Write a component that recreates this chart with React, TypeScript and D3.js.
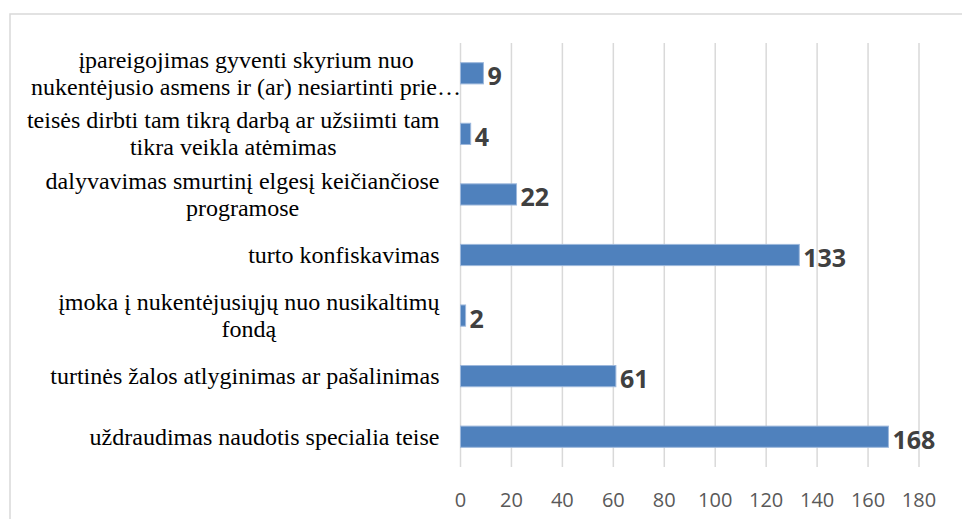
import React, { useEffect, useRef } from "react";
import * as d3 from "d3";

// categories top to bottom, each split into its wrapped lines
const categories = [
  ["įpareigojimas gyventi skyrium nuo", "nukentėjusio asmens ir (ar) nesiartinti prie…"],
  ["teisės dirbti tam tikrą darbą ar užsiimti tam", "tikra veikla atėmimas"],
  ["dalyvavimas smurtinį elgesį keičiančiose", "programose"],
  ["turto konfiskavimas"],
  ["įmoka į nukentėjusiųjų nuo nusikaltimų", "fondą"],
  ["turtinės žalos atlyginimas ar pašalinimas"],
  ["uždraudimas naudotis specialia teise"],
];
const values = [9, 4, 22, 133, 2, 61, 168];
const xTicks = [0, 20, 40, 60, 80, 100, 120, 140, 160, 180];

const W = 962;
const H = 519;

const App = () => {
  const svgRef = useRef(null);

  useEffect(() => {
    if (!svgRef.current) return;
    const svg = d3.select(svgRef.current);
    svg.selectAll("*").remove();

    const left = 460.5;
    const right = 919;
    const top = 43;
    const bottom = 467;

    const x = d3.scaleLinear().domain([0, 180]).range([left, right]);
    const y = d3
      .scaleBand()
      .domain(d3.range(categories.length).map(String))
      .range([top, bottom])
      .paddingInner(0.65)
      .paddingOuter(0.325);

    // chart frame (right / bottom sides fall outside the picture)
    svg
      .append("rect")
      .attr("x", 10)
      .attr("y", 14)
      .attr("width", W + 20)
      .attr("height", H + 20)
      .attr("fill", "#fff")
      .attr("stroke", "#d9d9d9")
      .attr("stroke-width", 1.5);

    // vertical gridlines
    svg
      .append("g")
      .selectAll("line")
      .data(xTicks)
      .enter()
      .append("line")
      .attr("x1", (d) => x(d))
      .attr("x2", (d) => x(d))
      .attr("y1", top)
      .attr("y2", bottom)
      .attr("stroke", "#d9d9d9")
      .attr("stroke-width", 1.5);

    // x tick labels
    svg
      .append("g")
      .selectAll("text")
      .data(xTicks)
      .enter()
      .append("text")
      .attr("x", (d) => x(d))
      .attr("y", 506.5)
      .attr("text-anchor", "middle")
      .attr("font-family", "'Open Sans', sans-serif")
      .attr("font-size", 20)
      .attr("fill", "#595959")
      .text((d) => d);

    // bars
    svg
      .append("g")
      .selectAll("rect")
      .data(values)
      .enter()
      .append("rect")
      .attr("x", x(0))
      .attr("y", (d, i) => y(String(i)))
      .attr("width", (d) => x(d) - x(0))
      .attr("height", y.bandwidth())
      .attr("fill", "#4f81bd")
      .attr("stroke", "#9db8dc")
      .attr("stroke-width", 1);

    // value labels
    svg
      .append("g")
      .selectAll("text")
      .data(values)
      .enter()
      .append("text")
      .attr("x", (d) => x(d) + 4)
      .attr("y", (d, i) => y(String(i)) + y.bandwidth() / 2 + 12)
      .attr("font-family", "'Open Sans', sans-serif")
      .attr("font-weight", "bold")
      .attr("font-size", 25)
      .attr("fill", "#404040")
      .text((d) => d);

    // category labels, wrapped lines centred on each other, block right-aligned
    const labelRight = 439.5;
    const lineH = 27;
    categories.forEach((lines, i) => {
      const cy = y(String(i)) + y.bandwidth() / 2;
      const g = svg.append("g");
      const texts = lines.map((line, j) =>
        g
          .append("text")
          .attr("y", cy + 8 + (j - (lines.length - 1) / 2) * lineH)
          .attr("text-anchor", "middle")
          .attr("font-family", "'Liberation Serif', 'Times New Roman', serif")
          .attr("font-size", 24)
          .attr("fill", "#000")
          .text(line)
      );
      // the truncated first label overflows past the axis, like the original
      const widths = texts.map((t) => t.node().getComputedTextLength());
      const maxW = d3.max(widths);
      const r = i === 0 ? 461 : labelRight;
      texts.forEach((t) => t.attr("x", r - maxW / 2));
    });
  }, []);

  return (
    <svg
      ref={svgRef}
      width={W}
      height={H}
      style={{ position: "absolute", left: 0, top: 0, background: "#fff" }}
    ></svg>
  );
};

export default App;
